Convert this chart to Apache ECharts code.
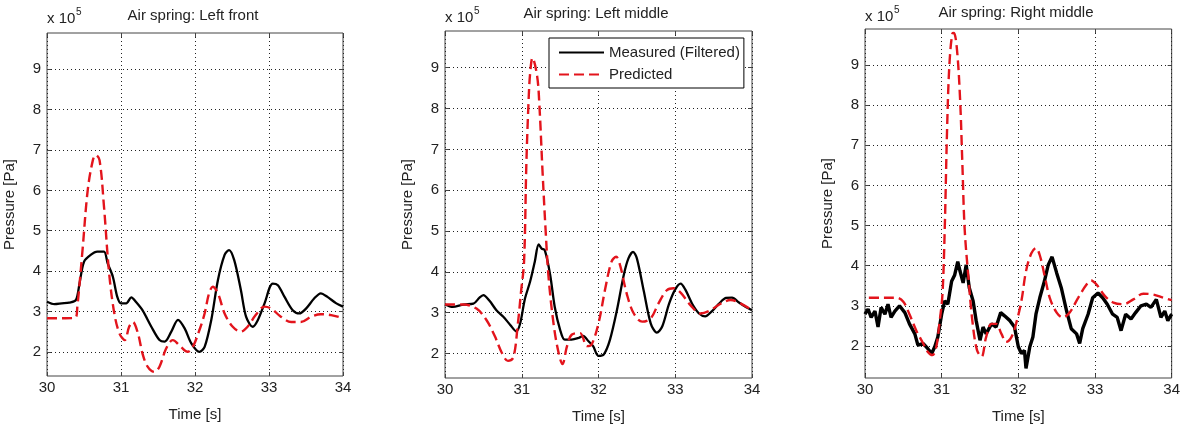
<!DOCTYPE html>
<html>
<head>
<meta charset="utf-8">
<script src="https://cdn.jsdelivr.net/npm/echarts@6/dist/echarts.min.js"></script>
<style>
  html, body { margin: 0; padding: 0; background: #fff; }
  #chart { width: 1183px; height: 429px; }
</style>
</head>
<body>
<div id="chart"></div>
<script>
// values in units of 1e5 Pa, time in s
var titles = ['Air spring: Left front', 'Air spring: Left middle', 'Air spring: Right middle'];
var xTicks = [30, 31, 32, 33, 34];
var yTicks = [2, 3, 4, 5, 6, 7, 8, 9];
var yMins = [1.4, 1.4, 1.2];
var yMax = 9.9;

// Left front
var lfMeasT = [30.00,30.10,30.20,30.30,30.39,30.44,30.50,30.59,30.68,30.77,30.82,30.89,30.95,31.00,31.07,31.14,31.20,31.29,31.41,31.52,31.59,31.68,31.77,31.86,31.95,32.06,32.13,32.22,32.31,32.40,32.46,32.53,32.62,32.69,32.78,32.85,32.94,33.05,33.12,33.21,33.32,33.41,33.50,33.61,33.70,33.79,33.91,34.00];
var lfMeasP = [3.24,3.18,3.2,3.22,3.28,3.7,4.23,4.4,4.48,4.48,4.19,3.86,3.36,3.2,3.2,3.35,3.24,3.03,2.62,2.29,2.25,2.5,2.79,2.58,2.21,2.0,2.12,2.79,3.78,4.4,4.52,4.27,3.53,2.87,2.62,2.79,3.2,3.69,3.65,3.36,3.03,2.95,3.07,3.32,3.45,3.36,3.2,3.12];
var lfPredT = [30.00,30.20,30.38,30.41,30.48,30.55,30.62,30.66,30.71,30.77,30.84,30.91,30.98,31.05,31.11,31.16,31.23,31.29,31.36,31.45,31.52,31.61,31.70,31.81,31.90,31.97,32.06,32.13,32.19,32.24,32.31,32.40,32.51,32.62,32.71,32.82,32.94,33.03,33.16,33.30,33.43,33.57,33.70,33.84,34.00];
var lfPredP = [2.83,2.83,2.84,3.12,4.52,6.0,6.75,6.88,6.75,5.6,3.94,2.95,2.45,2.29,2.62,2.74,2.45,1.96,1.63,1.5,1.63,2.08,2.29,2.12,2.0,2.12,2.54,2.95,3.45,3.61,3.45,2.95,2.62,2.5,2.62,2.91,3.12,3.07,2.87,2.74,2.74,2.87,2.93,2.91,2.83];

// Left middle
var lmMeasT = [30.00,30.10,30.24,30.37,30.45,30.50,30.58,30.67,30.76,30.85,30.93,30.98,31.04,31.11,31.17,31.22,31.26,31.30,31.37,31.43,31.50,31.56,31.65,31.74,31.80,31.87,31.93,32.00,32.07,32.15,32.24,32.33,32.39,32.45,32.50,32.59,32.68,32.76,32.83,32.92,33.00,33.07,33.13,33.22,33.31,33.39,33.48,33.57,33.66,33.74,33.83,33.92,34.00];
var lmMeasP = [3.2,3.14,3.2,3.22,3.37,3.43,3.29,3.06,2.9,2.7,2.54,2.74,3.33,3.77,4.25,4.67,4.57,4.53,3.93,3.14,2.58,2.34,2.34,2.38,2.43,2.3,2.18,1.94,1.98,2.34,3.06,3.93,4.33,4.49,4.33,3.53,2.74,2.51,2.66,3.22,3.57,3.71,3.57,3.22,2.98,2.91,3.04,3.22,3.36,3.37,3.25,3.14,3.06];
var lmPredT = [30.00,30.24,30.41,30.54,30.65,30.74,30.82,30.89,30.95,30.99,31.03,31.06,31.09,31.11,31.14,31.20,31.23,31.27,31.31,31.35,31.42,31.48,31.53,31.59,31.65,31.76,31.85,31.91,32.00,32.09,32.17,32.23,32.28,32.37,32.46,32.57,32.68,32.78,32.89,32.98,33.07,33.20,33.33,33.46,33.59,33.72,33.85,34.00];
var lmPredP = [3.2,3.2,3.1,2.82,2.42,2.02,1.82,1.9,2.74,3.5,4.25,6.64,8.24,8.88,9.24,8.8,8.08,6.49,5.05,3.85,2.65,2.02,1.74,2.18,2.46,2.5,2.18,2.22,2.74,3.61,4.25,4.37,4.17,3.45,2.98,2.78,2.86,3.22,3.55,3.6,3.49,3.18,2.98,3.06,3.22,3.31,3.23,3.06];

// Right middle
var rmMeasT = [30.00,30.04,30.08,30.13,30.17,30.21,30.26,30.30,30.34,30.39,30.45,30.52,30.58,30.65,30.69,30.76,30.82,30.87,30.91,30.95,31.00,31.04,31.08,31.13,31.17,31.21,31.24,31.28,31.32,31.36,31.41,31.45,31.50,31.54,31.58,31.65,31.71,31.77,31.82,31.89,31.95,32.00,32.04,32.08,32.10,32.15,32.19,32.23,32.28,32.34,32.39,32.44,32.50,32.56,32.63,32.69,32.76,32.80,32.84,32.91,32.97,33.04,33.10,33.16,33.23,33.29,33.34,33.40,33.47,33.53,33.60,33.67,33.73,33.80,33.86,33.91,33.95,34.00];
var rmMeasP = [2.79,2.92,2.71,2.87,2.47,2.96,2.79,3.04,2.71,2.87,3.0,2.83,2.55,2.3,2.02,2.06,1.93,1.81,1.98,2.22,2.79,3.12,3.04,3.61,3.77,4.1,3.86,3.57,4.02,3.45,3.12,2.63,2.14,2.47,2.3,2.55,2.47,2.83,2.75,2.63,2.47,1.98,1.81,1.89,1.44,1.98,2.22,2.79,3.2,3.61,4.02,4.22,3.82,3.45,2.87,2.43,2.3,2.06,2.43,2.79,3.2,3.32,3.2,3.04,2.79,2.71,2.38,2.79,2.67,2.83,3.0,3.04,2.96,3.16,2.71,2.87,2.63,2.79];
var rmPredT = [30.05,30.20,30.41,30.50,30.58,30.67,30.76,30.82,30.88,30.93,30.97,31.01,31.04,31.07,31.10,31.14,31.16,31.20,31.24,31.27,31.30,31.35,31.40,31.46,31.52,31.58,31.65,31.71,31.78,31.84,31.91,31.97,32.04,32.10,32.17,32.23,32.28,32.35,32.41,32.50,32.58,32.67,32.78,32.89,32.95,33.02,33.13,33.24,33.37,33.50,33.63,33.76,33.89,34.00];
var rmPredP = [3.2,3.2,3.2,3.1,2.79,2.38,2.06,1.85,1.77,1.98,2.55,3.28,4.91,7.35,8.98,9.79,9.8,9.38,8.16,6.54,4.91,3.69,2.63,1.9,1.73,2.22,2.55,2.55,2.3,2.1,2.22,2.55,3.12,3.86,4.31,4.44,4.26,3.69,3.2,2.83,2.71,2.83,3.2,3.53,3.63,3.53,3.24,3.08,3.04,3.16,3.3,3.28,3.2,3.14];

var measured = [[lfMeasT, lfMeasP], [lmMeasT, lmMeasP], [rmMeasT, rmMeasP]];
var predicted = [[lfPredT, lfPredP], [lmPredT, lmPredP], [rmPredT, rmPredP]];

var FONT = 'Liberation Sans, Arial, sans-serif';
var boxes = [
  {left: 47, top: 33, width: 296, height: 343},
  {left: 445, top: 31, width: 307, height: 356},
  {left: 865, top: 29, width: 307, height: 357}
];

function pairs(t, v) {
  return t.map(function (x, i) { return [x, v[i]]; });
}

var chart = echarts.init(document.getElementById('chart'));

var grids = [], xAxes = [], yAxes = [], series = [], graphics = [];

boxes.forEach(function (b, i) {
  grids.push({
    left: b.left, top: b.top, width: b.width, height: b.height,
    show: true, borderColor: '#444', borderWidth: 1, backgroundColor: '#fff'
  });
  // bottom / left axes with labels and dotted grid
  xAxes.push({
    type: 'value', gridIndex: i, min: 30, max: 34, interval: 1,
    name: 'Time [s]', nameLocation: 'middle', nameGap: 31,
    nameTextStyle: {fontFamily: FONT, fontSize: 15, color: '#222'},
    axisLine: {show: false},
    axisTick: {show: true, inside: true, length: 4, lineStyle: {color: '#444'}},
    axisLabel: {fontFamily: FONT, fontSize: 15, color: '#222', margin: 4,
      customValues: xTicks, formatter: function (v) { return String(v); }},
    splitLine: {show: true, lineStyle: {color: '#222', type: [1, 3], width: 1}}
  });
  // top axis, ticks only
  xAxes.push({
    type: 'value', gridIndex: i, position: 'top', min: 30, max: 34, interval: 1,
    axisLine: {show: false}, axisLabel: {show: false}, splitLine: {show: false},
    axisTick: {show: true, inside: true, length: 4, lineStyle: {color: '#444'}}
  });
  yAxes.push({
    type: 'value', gridIndex: i, min: yMins[i], max: yMax,
    name: 'Pressure [Pa]', nameLocation: 'middle', nameGap: 30,
    nameTextStyle: {fontFamily: FONT, fontSize: 15, color: '#222'},
    axisLine: {show: false},
    axisTick: {show: true, inside: true, length: 4, customValues: yTicks, lineStyle: {color: '#444'}},
    axisLabel: {fontFamily: FONT, fontSize: 15, color: '#222', margin: 6, customValues: yTicks},
    splitLine: {show: true, lineStyle: {color: '#222', type: [1, 3], width: 1}}
  });
  yAxes.push({
    type: 'value', gridIndex: i, position: 'right', min: yMins[i], max: yMax,
    axisLine: {show: false}, axisLabel: {show: false}, splitLine: {show: false},
    axisTick: {show: true, inside: true, length: 4, customValues: yTicks, lineStyle: {color: '#444'}}
  });

  series.push({
    name: 'Measured (Filtered)', type: 'line',
    xAxisIndex: 2 * i, yAxisIndex: 2 * i,
    symbol: 'none', smooth: i === 2 ? false : 0.3,
    lineStyle: {color: '#000', width: i === 2 ? 3.4 : 2.3},
    itemStyle: {color: '#000'},
    data: pairs(measured[i][0], measured[i][1])
  });
  series.push({
    name: 'Predicted', type: 'line',
    xAxisIndex: 2 * i, yAxisIndex: 2 * i,
    symbol: 'none', smooth: 0.35,
    lineStyle: {color: '#e3141c', width: 2.4, type: [10, 5]},
    itemStyle: {color: '#e3141c'},
    data: pairs(predicted[i][0], predicted[i][1])
  });
});

// titles and the x 10^5 multipliers
var titleX = [193, 596, 1016], titleY = [16, 14, 13];
var expY = [19, 18, 17];
titles.forEach(function (t, i) {
  graphics.push({
    type: 'text', x: titleX[i], y: titleY[i],
    style: {text: t, fontFamily: FONT, fontSize: 15, fill: '#222', textAlign: 'center', textVerticalAlign: 'middle'}
  });
  graphics.push({
    type: 'text', x: boxes[i].left, y: expY[i],
    style: {text: 'x 10', fontFamily: FONT, fontSize: 15, fill: '#222', textAlign: 'left', textVerticalAlign: 'middle'}
  });
  graphics.push({
    type: 'text', x: boxes[i].left + 29, y: expY[i] - 7,
    style: {text: '5', fontFamily: FONT, fontSize: 10, fill: '#222', textAlign: 'left', textVerticalAlign: 'middle'}
  });
});

chart.setOption({
  backgroundColor: '#fff',
  animation: false,
  grid: grids,
  xAxis: xAxes,
  yAxis: yAxes,
  legend: {
    show: true, selectedMode: false,
    data: ['Measured (Filtered)', 'Predicted'],
    orient: 'vertical', left: 549, top: 38,
    backgroundColor: '#fff', borderColor: '#000', borderWidth: 1,
    padding: [7, 4, 6, 9], itemWidth: 45, itemHeight: 14, itemGap: 7,
    itemStyle: {opacity: 0},
    textStyle: {fontFamily: FONT, fontSize: 15, color: '#222'}
  },
  graphic: graphics,
  series: series
});
</script>
</body>
</html>
